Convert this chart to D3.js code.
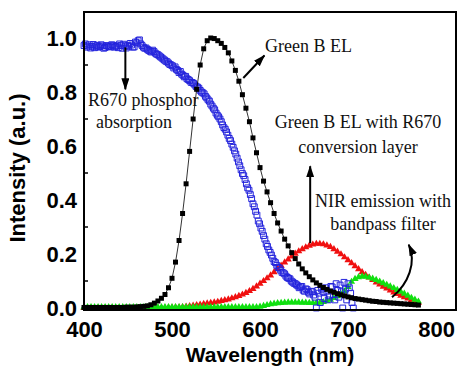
<!DOCTYPE html>
<html>
<head>
<meta charset="utf-8">
<script src="https://cdn.jsdelivr.net/npm/d3@7"></script>
<style>
  html, body { margin: 0; padding: 0; background: #fff; }
  svg { display: block; }
</style>
</head>
<body>
<div id="chart"></div>
<script>
var width = 457;
var height = 371;
var margin = {top: 12, right: 1, bottom: 61, left: 84};

// wavelength grid (nm) for the EL spectra, one row = 20 nm
var wl = [
  400,404,408,412,416, 420,424,428,432,436, 440,444,448,452,456, 460,464,468,472,476,
  480,484,488,492,496, 500,504,508,512,516, 520,524,528,532,536, 540,544,548,552,556,
  560,564,568,572,576, 580,584,588,592,596, 600,604,608,612,616, 620,624,628,632,636,
  640,644,648,652,656, 660,664,668,672,676, 680,684,688,692,696, 700,704,708,712,716,
  720,724,728,732,736, 740,744,748,752,756, 760,764,768,772,776, 780
];

// Green B EL (black squares)
var greenEL = [
  0.002,0.002,0.002,0.002,0.002, 0.002,0.002,0.002,0.002,0.002, 0.002,0.002,0.003,0.003,0.003, 0.004,0.005,0.006,0.008,0.012,
  0.018,0.026,0.036,0.05,0.075, 0.11,0.17,0.25,0.35,0.46, 0.58,0.70,0.81,0.90,0.96, 0.99,1.0,0.998,0.99,0.98,
  0.965,0.945,0.915,0.88,0.84, 0.79,0.74,0.69,0.63,0.575, 0.52,0.47,0.43,0.39,0.35, 0.315,0.285,0.255,0.23,0.205,
  0.183,0.163,0.145,0.13,0.116, 0.104,0.093,0.084,0.076,0.069, 0.063,0.058,0.053,0.049,0.045, 0.041,0.038,0.035,0.033,0.031,
  0.029,0.027,0.025,0.024,0.022, 0.021,0.02,0.019,0.018,0.017, 0.016,0.015,0.014,0.013,0.012, 0.011
];

// Green B EL with R670 conversion layer (red triangles)
var withR670 = [
  0,0,0,0,0, 0,0,0,0,0, 0,0,0,0,0, 0,0,0,0,0,
  0,0,0,0,0.001, 0.001,0.002,0.002,0.003,0.005, 0.007,0.009,0.011,0.013,0.015, 0.017,0.019,0.021,0.023,0.026,
  0.029,0.032,0.036,0.04,0.045, 0.05,0.056,0.063,0.071,0.08, 0.09,0.1,0.11,0.121,0.133, 0.145,0.157,0.169,0.18,0.191,
  0.201,0.21,0.218,0.225,0.231, 0.235,0.238,0.238,0.236,0.232, 0.226,0.218,0.209,0.199,0.188, 0.177,0.166,0.155,0.144,0.133,
  0.123,0.113,0.104,0.095,0.087, 0.079,0.072,0.065,0.058,0.052, 0.046,0.04,0.035,0.03,0.025, 0.02
];

// NIR emission with bandpass filter (green triangles)
var nirBandpass = [
  0.003,0.003,0.003,0.003,0.003, 0.003,0.003,0.003,0.003,0.003, 0.003,0.003,0.003,0.003,0.003, 0.003,0.003,0.003,0.003,0.003,
  0.003,0.003,0.003,0.003,0.003, 0.003,0.003,0.003,0.003,0.003, 0.003,0.003,0.003,0.003,0.003, 0.003,0.003,0.003,0.003,0.003,
  0.003,0.003,0.003,0.003,0.003, 0.003,0.003,0.003,0.003,0.003, 0.005,0.008,0.011,0.014,0.016, 0.018,0.019,0.02,0.021,0.021,
  0.021,0.021,0.02,0.02,0.019, 0.019,0.019,0.02,0.022,0.026, 0.031,0.037,0.044,0.052,0.062, 0.078,0.097,0.108,0.114,0.117,
  0.116,0.113,0.109,0.104,0.098, 0.092,0.086,0.08,0.074,0.067, 0.06,0.053,0.046,0.038,0.031, 0.024
];

// R670 phosphor absorption (blue open squares), one row = 30 nm
var wlAbs = [
  400,403,406,409,412,415,418,421,424,427,
  430,433,436,439,442,445,448,451,454,457,
  460,463,466,469,472,475,478,481,484,487,
  490,493,496,499,502,505,508,511,514,517,
  520,523,526,529,532,535,538,541,544,547,
  550,553,556,559,562,565,568,571,574,577,
  580,583,586,589,592,595,598,601,604,607,
  610,613,616,619,622,625,628,631,634,637,
  640,643,646,649,652,655,658,661,664,667,
  670,673,676,679,682,685,688,691,694,697,
  700,703,706
];
var r670Abs = [
  0.972,0.966,0.975,0.969,0.964,0.973,0.968,0.971,0.965,0.970,
  0.967,0.973,0.969,0.964,0.972,0.977,0.963,0.969,0.974,0.967,
  0.982,0.993,0.972,0.962,0.958,0.951,0.955,0.944,0.938,0.930,
  0.922,0.914,0.907,0.900,0.889,0.884,0.872,0.866,0.856,0.849,
  0.842,0.835,0.826,0.818,0.806,0.797,0.784,0.771,0.755,0.740,
  0.722,0.708,0.690,0.668,0.652,0.628,0.607,0.582,0.555,0.527,
  0.498,0.476,0.445,0.420,0.386,0.358,0.322,0.296,0.268,0.238,
  0.215,0.196,0.172,0.158,0.148,0.132,0.126,0.113,0.108,0.096,
  0.090,0.082,0.078,0.066,0.071,0.058,0.062,0.048,0.000,0.055,
  0.070,0.035,0.062,0.045,0.078,0.030,0.065,0.085,0.000,0.070,
  0.090,0.055,0.000
];
// the in-between readings of the same absorption scan
var wlAbsB = [
  401.5,404.5,407.5,410.5,413.5,416.5,419.5,422.5,425.5,428.5,
  431.5,434.5,437.5,440.5,443.5,446.5,449.5,452.5,455.5,458.5,
  461.5,464.5,467.5,470.5,473.5,476.5,479.5,482.5,485.5,488.5,
  491.5,494.5,497.5,500.5,503.5,506.5,509.5,512.5,515.5,518.5,
  521.5,524.5,527.5,530.5,533.5,536.5,539.5,542.5,545.5,548.5,
  551.5,554.5,557.5,560.5,563.5,566.5,569.5,572.5,575.5,578.5,
  581.5,584.5,587.5,590.5,593.5,596.5,599.5,602.5,605.5,608.5,
  611.5,614.5,617.5,620.5,623.5,626.5,629.5,632.5,635.5,638.5,
  641.5,644.5,647.5,650.5,653.5,656.5,659.5,662.5,665.5,668.5,
  671.5,674.5,677.5,680.5,683.5,686.5,689.5,692.5,695.5,698.5,
  701.5,704.5
];
var r670AbsB = [
  0.978,0.970,0.963,0.976,0.970,0.966,0.975,0.962,0.972,0.968,
  0.975,0.966,0.971,0.978,0.962,0.970,0.973,0.980,0.966,0.985,
  0.990,0.978,0.966,0.963,0.954,0.948,0.950,0.940,0.934,0.926,
  0.918,0.912,0.902,0.897,0.893,0.880,0.876,0.862,0.858,0.846,
  0.836,0.832,0.820,0.814,0.800,0.793,0.778,0.766,0.748,0.734,
  0.714,0.700,0.678,0.662,0.640,0.620,0.595,0.570,0.541,0.512,
  0.490,0.460,0.436,0.405,0.375,0.344,0.312,0.284,0.255,0.228,
  0.206,0.184,0.168,0.150,0.140,0.130,0.118,0.110,0.100,0.092,
  0.086,0.075,0.080,0.062,0.068,0.052,0.060,0.040,0.065,0.020,
  0.060,0.075,0.030,0.080,0.050,0.090,0.040,0.060,0.095,0.030,
  0.075,0.020
];

var xTicks = [400, 500, 600, 700, 800];
var yTicks = [0.0, 0.2, 0.4, 0.6, 0.8, 1.0];
var yMinor = [0.1, 0.3, 0.5, 0.7, 0.9];

var svg = d3.select("#chart").append("svg").attr("width", width).attr("height", height)

var x = d3.scaleLinear().domain([400, 822.7]).range([margin.left, width - margin.right])
var y = d3.scaleLinear().domain([-0.0074, 1.0963]).range([height - margin.bottom, margin.top])

var defs = svg.append("defs")
defs.append("marker")
    .attr("id", "head")
    .attr("viewBox", "0 -4 12 8")
    .attr("refX", 11).attr("refY", 0)
    .attr("markerUnits", "userSpaceOnUse")
    .attr("markerWidth", 12).attr("markerHeight", 8)
    .attr("orient", "auto")
  .append("path")
    .attr("d", "M0,-4L12,0L0,4Z")
    .attr("fill", "#000")

var plot = svg.append("g")

function series(xs, ys) {
  return xs.map(function(d, i) { return [d, ys[i]] })
}
function place(d) { return "translate(" + x(d[0]) + "," + y(d[1]) + ")" }

// red triangles
plot.append("g").selectAll("path")
  .data(series(wl, withR670))
  .join("path")
  .attr("transform", place)
  .attr("d", d3.symbol(d3.symbolTriangle, 22))
  .attr("fill", "#f01010")

// green triangles
plot.append("g").selectAll("path")
  .data(series(wl, nirBandpass))
  .join("path")
  .attr("transform", place)
  .attr("d", d3.symbol(d3.symbolTriangle, 22))
  .attr("fill", "#10e010")

// blue open squares
plot.append("g").selectAll("path")
  .data(series(wlAbs, r670Abs).concat(series(wlAbsB, r670AbsB)))
  .join("path")
  .attr("transform", place)
  .attr("d", d3.symbol(d3.symbolSquare, 34))
  .attr("fill", "none")
  .attr("stroke", "#2424dc")
  .attr("stroke-width", 1)

// black line + filled squares
var elData = series(wl, greenEL)
plot.append("path")
  .datum(elData)
  .attr("d", d3.line().x(function(d) { return x(d[0]) }).y(function(d) { return y(d[1]) }))
  .attr("fill", "none")
  .attr("stroke", "#000")
  .attr("stroke-width", 0.8)
plot.append("g").selectAll("path")
  .data(elData)
  .join("path")
  .attr("transform", place)
  .attr("d", d3.symbol(d3.symbolSquare, 25))
  .attr("fill", "#000")

// frame
svg.append("rect")
  .attr("x", margin.left).attr("y", margin.top)
  .attr("width", width - margin.right - margin.left)
  .attr("height", height - margin.bottom - margin.top)
  .attr("fill", "none")
  .attr("stroke", "#000")
  .attr("stroke-width", 2)

// axes
var yAxis = svg.append("g")
  .attr("transform", "translate(" + margin.left + ",0)")
  .call(d3.axisLeft(y).tickValues(yTicks).tickFormat(d3.format(".1f")).tickSize(0).tickPadding(7))
yAxis.select(".domain").remove()
yAxis.selectAll("text")
  .attr("font-family", "Liberation Sans, Arial, sans-serif")
  .attr("font-weight", "bold")
  .attr("font-size", 22)
  .attr("fill", "#000")

svg.append("g").selectAll("line")
  .data(yMinor)
  .join("line")
  .attr("x1", margin.left).attr("x2", margin.left + 4)
  .attr("y1", function(d) { return y(d) }).attr("y2", function(d) { return y(d) })
  .attr("stroke", "#000").attr("stroke-width", 1.5)

var xAxis = svg.append("g")
  .attr("transform", "translate(0," + (height - margin.bottom) + ")")
  .call(d3.axisBottom(x).tickValues(xTicks).tickFormat(d3.format("d")).tickSize(0).tickPadding(11))
xAxis.select(".domain").remove()
xAxis.selectAll("text")
  .attr("font-family", "Liberation Sans, Arial, sans-serif")
  .attr("font-weight", "bold")
  .attr("font-size", 22)
  .attr("fill", "#000")

// axis titles
svg.append("text")
  .attr("transform", "translate(25," + 168 + ") rotate(-90)")
  .attr("text-anchor", "middle")
  .attr("font-family", "Liberation Sans, Arial, sans-serif")
  .attr("font-weight", "bold")
  .attr("font-size", 22)
  .text("Intensity (a.u.)")

svg.append("text")
  .attr("x", (margin.left + width - margin.right) / 2)
  .attr("y", 362)
  .attr("text-anchor", "middle")
  .attr("font-family", "Liberation Sans, Arial, sans-serif")
  .attr("font-weight", "bold")
  .attr("font-size", 21)
  .text("Wavelength (nm)")

// annotations
var notes = [
  {t: "R670 phosphor", x: 88, y: 106, a: "start"},
  {t: "absorption", x: 96, y: 128, a: "start"},
  {t: "Green B EL", x: 265, y: 52, a: "start"},
  {t: "Green B EL with R670", x: 358, y: 128, a: "middle"},
  {t: "conversion layer", x: 358, y: 153, a: "middle"},
  {t: "NIR emission with", x: 383, y: 207, a: "middle"},
  {t: "bandpass filter", x: 383, y: 230, a: "middle"}
]
svg.append("g").selectAll("text")
  .data(notes)
  .join("text")
  .attr("x", function(d) { return d.x }).attr("y", function(d) { return d.y })
  .attr("text-anchor", function(d) { return d.a })
  .attr("font-family", "Liberation Serif, Times New Roman, serif")
  .attr("font-size", 18)
  .attr("fill", "#111")
  .text(function(d) { return d.t })

var arrows = [
  "M" + x(447) + "," + y(0.965) + "L" + x(447) + "," + y(0.81),
  "M" + x(581) + "," + y(0.852) + "L" + x(605) + "," + y(0.935),
  "M" + x(657) + "," + y(0.24) + "L" + x(657) + "," + y(0.525),
  "M" + x(750) + "," + y(0.04) + "C" + x(769) + "," + y(0.09) + " " + x(778) + "," + y(0.17) + " " + x(769) + "," + y(0.235)
]
svg.append("g").selectAll("path")
  .data(arrows)
  .join("path")
  .attr("d", function(d) { return d })
  .attr("fill", "none")
  .attr("stroke", "#000")
  .attr("stroke-width", 2)
  .attr("marker-end", "url(#head)")
</script>
</body>
</html>
